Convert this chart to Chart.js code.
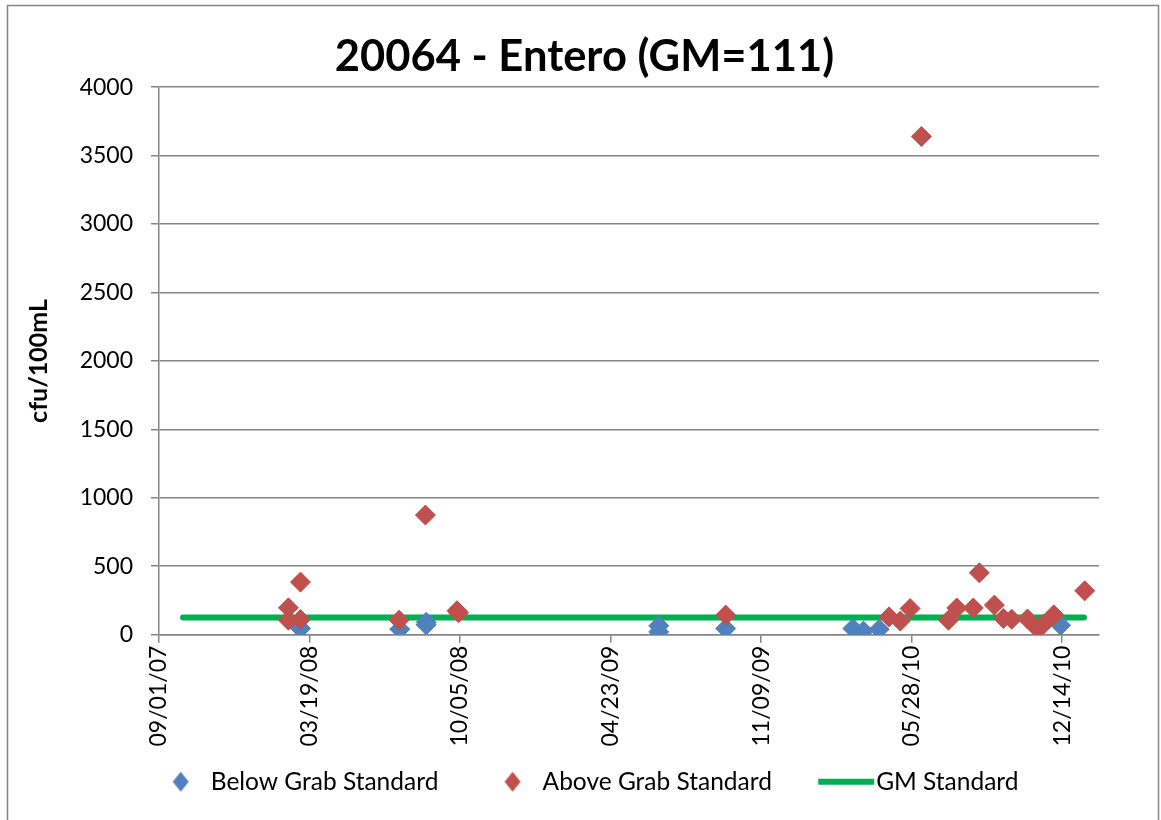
<!DOCTYPE html>
<html>
<head>
<meta charset="utf-8">
<script src="https://cdn.jsdelivr.net/npm/chart.js@4.4.1/dist/chart.umd.min.js"></script>
<style>
  html, body { margin: 0; padding: 0; background: #fff; }
  #wrap { width: 1161px; height: 820px; position: relative; }
</style>
</head>
<body>
<div id="wrap"><canvas id="c"></canvas></div>
<script>
// ---- data ----
const chartTitle = "20064 - Entero (GM=111)";
const yAxisTitle = "cfu/100mL";
const seriesNames = ["Below Grab Standard", "Above Grab Standard", "GM Standard"];

const belowDates  = ["03/07/08","07/17/08","08/21/08","08/21/08","06/26/09","06/26/09","09/23/09","03/11/10","03/25/10","04/15/10","12/12/10"];
const belowValues = [45, 40, 90, 72, 65, 20, 45, 45, 26, 40, 69];

const aboveDates  = ["02/20/08","02/20/08","03/07/08","03/07/08","07/16/08","08/20/08","10/01/08","10/03/08","09/23/09","04/28/10","05/13/10","05/26/10","06/10/10","07/16/10","07/27/10","08/18/10","08/26/10","09/15/10","09/27/10","10/08/10","10/29/10","11/11/10","11/19/10","12/03/10","01/13/11"];
const aboveValues = [196, 106, 384, 111, 106, 874, 175, 160, 143, 130, 99, 191, 3640, 106, 195, 195, 452, 216, 118, 113, 115, 45, 75, 145, 320];

const gmDates  = ["10/03/07","01/12/11"];
const gmValues = [126, 126];

const xTickLabels = ["09/01/07","03/19/08","10/05/08","04/23/09","11/09/09","05/28/10","12/14/10"];
const xMinDate = "09/01/07";
const xMaxDate = "02/01/11";
const yTickValues = [0, 500, 1000, 1500, 2000, 2500, 3000, 3500, 4000];

// ---- helpers ----
function D(s) { const [m, d, y] = s.split('/').map(Number); return Date.UTC(2000 + y, m - 1, d) / 864e5; }
function pad(n) { return String(n).padStart(2, '0'); }
function fmt(v) { const dt = new Date(Math.round(v) * 864e5); return pad(dt.getUTCMonth() + 1) + '/' + pad(dt.getUTCDate()) + '/' + pad(dt.getUTCFullYear() % 100); }
function pts(dates, vals) { return dates.map((d, i) => ({ x: D(d), y: vals[i] })); }

const BLUE = '#4F81BD', RED = '#C0504D', GREEN = '#00B050', GRAY = '#868686';
const FONT = 'Lato, "Open Sans", sans-serif';

// legend icons (canvas point styles)
function diamondIcon(color, W, cx) {
  const c = document.createElement('canvas'); c.width = W; c.height = 22;
  const g = c.getContext('2d'); g.fillStyle = color; g.beginPath();
  g.moveTo(cx, 1); g.lineTo(cx + 8, 11); g.lineTo(cx, 21); g.lineTo(cx - 8, 11); g.closePath(); g.fill();
  return c;
}
function lineIcon(color, W, x0, x1) {
  const c = document.createElement('canvas'); c.width = W; c.height = 8;
  const g = c.getContext('2d'); g.strokeStyle = color; g.lineWidth = 6; g.beginPath();
  g.moveTo(x0, 4); g.lineTo(x1, 4); g.stroke();
  return c;
}
const legendIcons = [diamondIcon(BLUE, 56, 46.25), diamondIcon(RED, 56, 46.25), lineIcon(GREEN, 94, 37.25, 93.25)];

const frame = {
  id: 'frame',
  beforeDraw(chart) {
    const ctx = chart.ctx; ctx.save(); ctx.fillStyle = '#fff'; ctx.fillRect(0, 0, chart.width, chart.height); ctx.restore();
  },
  afterLayout(chart) {
    // nudge the legend row slightly left, as in the reference
    if (chart.legend) { chart.legend.left -= 12; chart.legend.right -= 12; }
  },
  afterDraw(chart) {
    const ctx = chart.ctx; ctx.save(); ctx.strokeStyle = GRAY; ctx.lineWidth = 1.5;
    ctx.strokeRect(7.5, 5.5, 1151, 840); ctx.restore();
  }
};

Chart.defaults.color = '#000';
Chart.defaults.font.family = FONT;

new Chart(document.getElementById('c'), {
  type: 'scatter',
  data: {
    datasets: [
      { label: seriesNames[0], data: pts(belowDates, belowValues), order: 1,
        pointStyle: 'rectRot', pointRadius: 10, pointHoverRadius: 10,
        backgroundColor: BLUE, borderColor: BLUE, borderWidth: 1, xAxisID: 'x', yAxisID: 'y' },
      { label: seriesNames[1], data: pts(aboveDates, aboveValues), order: 0,
        pointStyle: 'rectRot', pointRadius: 10, pointHoverRadius: 10,
        backgroundColor: RED, borderColor: RED, borderWidth: 1, xAxisID: 'x', yAxisID: 'y' },
      { label: seriesNames[2], data: pts(gmDates, gmValues), order: 2, showLine: true,
        borderColor: GREEN, backgroundColor: GREEN, borderWidth: 6, borderCapStyle: 'round',
        pointRadius: 0, pointHoverRadius: 0, xAxisID: 'x', yAxisID: 'y' }
    ]
  },
  options: {
    responsive: true, maintainAspectRatio: false, animation: false,
    layout: { padding: { left: 24, right: 16, top: 10, bottom: 16 } },
    plugins: {
      tooltip: { enabled: false },
      title: { display: true, text: chartTitle, color: '#000',
        font: { family: FONT, size: 43.5, weight: 'bold' }, padding: { top: 21, bottom: 4 } },
      legend: {
        position: 'bottom',
        labels: {
          usePointStyle: true, pointStyleWidth: 72, padding: 20,
          font: { family: FONT, size: 24.5 }, color: '#000',
          generateLabels(chart) {
            const items = Chart.defaults.plugins.legend.labels.generateLabels(chart);
            items.forEach(it => { it.pointStyle = legendIcons[it.datasetIndex]; it.rotation = 0; });
            return items;
          },
          sort: (a, b) => a.datasetIndex - b.datasetIndex
        }
      }
    },
    scales: {
      x: {
        type: 'linear', position: 'bottom', min: D(xMinDate), max: D(xMaxDate),
        afterBuildTicks(s) { s.ticks = xTickLabels.map(t => ({ value: D(t) })); },
        ticks: { autoSkip: false, maxRotation: 90, minRotation: 90, padding: 3,
          font: { family: FONT, size: 23 }, color: '#000', callback: v => fmt(v) },
        grid: { display: true, drawOnChartArea: false, drawTicks: true, tickLength: 8, color: GRAY, lineWidth: 1.5 },
        border: { display: true, color: GRAY, width: 1.5 }
      },
      y: {
        type: 'linear', position: 'left', min: 0, max: 4000,
        afterBuildTicks(s) { s.ticks = yTickValues.map(v => ({ value: v })); },
        afterFit(s) { s.width = 135; },
        ticks: { padding: 18, font: { family: FONT, size: 23 }, color: '#000', callback: v => String(v) },
        grid: { display: true, drawOnChartArea: true, drawTicks: true, tickLength: 8, color: GRAY, lineWidth: 1.5 },
        border: { display: true, color: GRAY, width: 1.5 },
        title: { display: true, text: yAxisTitle, color: '#000', font: { family: FONT, size: 25, weight: 'bold' },
          padding: { top: 0, bottom: 27.5 } }
      },
      yR: {
        type: 'linear', position: 'right', display: true,
        grid: { display: false }, border: { display: false }, ticks: { display: false },
        afterFit(s) { s.width = 46; }
      }
    }
  },
  plugins: [frame]
});
</script>
</body>
</html>
